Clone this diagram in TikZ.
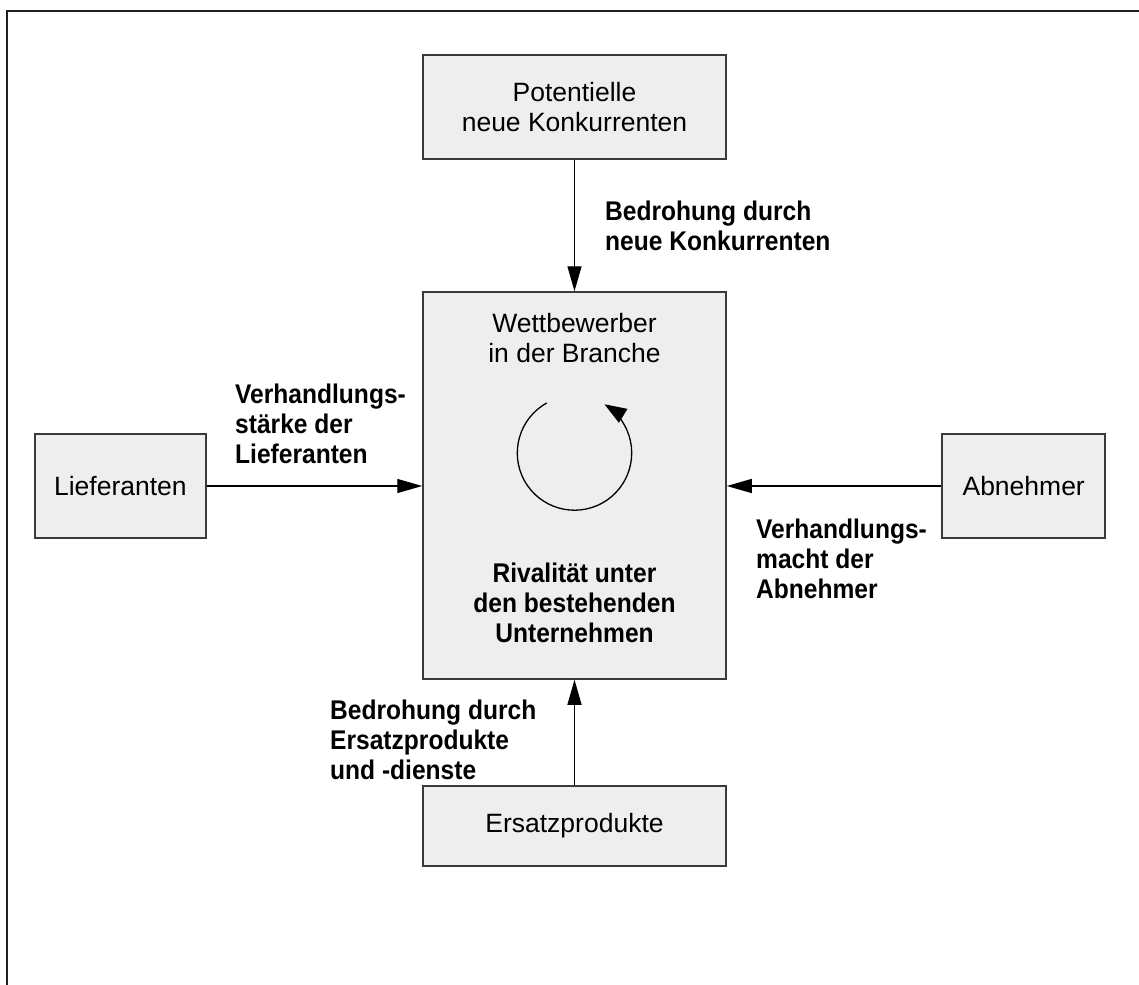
\documentclass[tikz,border=0pt]{standalone}
\usepackage{fontspec}
\setmainfont{Liberation Sans}
\newfontfamily\labelfont{Liberation Sans}[FakeStretch=0.91]
\usetikzlibrary{arrows.meta,calc}
\definecolor{boxfill}{HTML}{EEEEEE}
\definecolor{boxline}{HTML}{3A3A3A}
\begin{document}
\begin{tikzpicture}[x=1bp,y=-1bp,
  force/.style={draw=boxline, line width=1.5bp, fill=boxfill, inner sep=0pt,
    align=center, font=\fontsize{26.5bp}{29.5bp}\selectfont},
  plain/.style={font=\fontsize{26.5bp}{29.5bp}\selectfont, inner sep=0pt, align=center},
  strong/.style={font=\labelfont\bfseries\fontsize{27bp}{30bp}\selectfont, inner sep=0pt, align=left},
  link/.style={line width=1.3bp, -{Triangle[length=25bp,width=14bp]}},
]
\useasboundingbox (0,0) rectangle (1139,985);
% open frame: top and left edges only
\draw[line width=2.2bp, draw=black!88] (7,995) -- (7,11) -- (1150,11);

% the five forces
\node[force, minimum width=303bp, minimum height=104bp] (entrants) at (574.5,107) {Potentielle\\neue Konkurrenten};
\node[force, minimum width=303bp, minimum height=387bp] (rivalry) at (574.5,485.5) {};
\node[force, minimum width=171bp, minimum height=104bp] (suppliers) at (120.4,486) {Lieferanten};
\node[force, minimum width=163bp, minimum height=104bp] (buyers) at (1023.7,486) {Abnehmer};
\node[force, minimum width=303bp, minimum height=80bp] (substitutes) at (574.5,826) {Ersatzprodukte};

% texts inside the central box
\node[plain, anchor=north] (rivalhead) at (574.5,313.4) {Wettbewerber\\in der Branche};
\node[strong, align=center, anchor=north] (rivaltext) at (574.5,563) {Rivalität unter\\den bestehenden\\Unternehmen};

% rotating arrow for rivalry
\coordinate (spin) at (574.5,453);
\draw[line width=1.3bp, -{Triangle[length=22bp,width=16bp]}]
  ($(spin)+(119:57.2bp)$) arc[start angle=119, end angle=418.4, radius=57.2bp];

% connectors
\draw[link] (entrants.south) -- (rivalry.north);
\draw[link] (substitutes.north) -- (rivalry.south);
\draw[link] (suppliers.east) -- (suppliers.east -| rivalry.west);
\draw[link] (buyers.west) -- (buyers.west -| rivalry.east);

% connector labels
\node[strong, anchor=north west] (threatnew) at (605,200.3) {Bedrohung durch\\neue Konkurrenten};
\node[strong, anchor=north west] (supplierpower) at (235,383.3) {Verhandlungs-\\stärke der\\Lieferanten};
\node[strong, anchor=north west] (buyerpower) at (756,518.3) {Verhandlungs-\\macht der\\Abnehmer};
\node[strong, anchor=north west] (threatsubst) at (330,700) {Bedrohung durch\\Ersatzprodukte\\und -dienste};
\end{tikzpicture}
\end{document}
